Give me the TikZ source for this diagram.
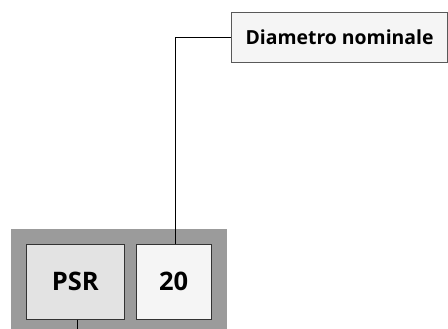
\documentclass[tikz,border=0pt]{standalone}
\usepackage{fontspec}
\setmainfont{Open Sans}
\usetikzlibrary{positioning}
\definecolor{FrameGray}{HTML}{9B9B9B}
\definecolor{CodeFill}{HTML}{E3E3E3}
\definecolor{PartFill}{HTML}{F5F5F5}
\begin{document}
\begin{tikzpicture}[x=1pt,y=-1pt,
  codebox/.style={draw=black!80,line width=1pt,inner sep=0pt,minimum height=75pt,font=\bfseries\fontsize{25.5}{30}\selectfont},
  labelbox/.style={draw=black!65,line width=1pt,fill=PartFill,inner sep=0pt,minimum width=216pt,minimum height=50pt,font=\bfseries\fontsize{19.4}{23}\selectfont}]
\useasboundingbox (0,0) rectangle (448,329);
\fill[FrameGray] (11,229) rectangle (227,329);
\node[codebox,fill=CodeFill,minimum width=98pt] (psr) at (75.3,281.5) {PSR};
\node[codebox,fill=PartFill,minimum width=75pt] (dn) at (173.6,281.5) {20};
\node[labelbox] (dnlab) at (339.6,37.5) {Diametro nominale};
\coordinate (psrfoot) at (77.7,329);
\draw[line width=1pt] ([xshift=2pt]dn.north) |- (dnlab.west);
\draw[line width=1pt] (psrfoot |- psr.south) -- (psrfoot);
\end{tikzpicture}
\end{document}
